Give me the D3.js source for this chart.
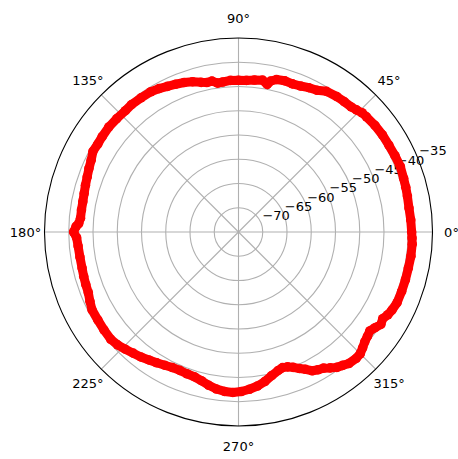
<!DOCTYPE html>
<html><head><meta charset="utf-8">
<script src="https://cdn.jsdelivr.net/npm/d3@7"></script>
<style>body{margin:0;background:#fff} svg{display:block}</style>
</head><body><svg id="c" width="458" height="459"></svg>
<script>
// measured angles (degrees) and received level (dB)
const angleDeg = [0,4,8,12,15,18,22,26,30,34,38,42,44,46,48,51,54,58,61,64,67,70,73,76,78,79,81,84,87,90,93,96,98,100,102,104,107,110,113,116,119,122,126,130,133,137,141,145,148,151,154,157,160,163,166,169,172,175,177,178,180,182,185,189,193,196,199,202,205,208,212,216,220,223,226,229,232,235,238,241,244,247,250,253,256,259,262,265,268,271,274,277,280,283,286,288,290,292,294,296,298,300,302,304,306,308,310,313,315,317,319,321,323,325,327,329,331,333,336,340,344,348,352,356,358];
const levelDb = [-39.3,-39.4,-39.5,-39.4,-39.3,-39.2,-39.0,-39.1,-39.2,-39.2,-39.3,-39.5,-39.6,-40.0,-40.3,-40.4,-40.5,-40.8,-41.6,-41.9,-42.3,-42.5,-42.4,-42.6,-43.2,-44.0,-43.3,-43.5,-43.7,-43.7,-43.7,-43.9,-44.0,-43.4,-43.5,-43.2,-42.6,-42.2,-41.9,-41.6,-41.2,-40.9,-40.8,-40.7,-40.8,-40.7,-40.6,-40.7,-40.8,-40.7,-41.2,-41.5,-41.8,-42.0,-42.2,-42.3,-42.3,-42.3,-42.0,-41.5,-41.0,-41.6,-41.8,-41.9,-41.9,-41.8,-41.7,-41.6,-41.2,-40.8,-40.8,-40.7,-40.6,-40.9,-41.4,-41.9,-42.3,-42.8,-43.2,-43.6,-43.9,-44.0,-43.9,-43.8,-43.4,-42.8,-42.3,-42.0,-41.9,-42.1,-42.5,-43.0,-43.7,-44.6,-45.3,-45.6,-45.4,-44.9,-44.2,-43.5,-42.6,-42.2,-41.9,-41.2,-40.5,-40.1,-39.6,-39.4,-39.5,-40.0,-40.5,-40.8,-41.1,-40.6,-40.0,-40.3,-39.8,-39.5,-39.2,-39.2,-39.2,-39.2,-39.1,-39.1,-39.2];
const radialTicks = [-70,-65,-60,-55,-50,-45,-40,-35];
const angleTicks = [0,45,90,135,180,225,270,315];
const rDomain = [-75,-35];

const cx=238.5, cy=232, R=194;
const rad = Math.PI/180;
const svg=d3.select("#c");
svg.append("rect").attr("width",458).attr("height",459).attr("fill","#fff");
const r = d3.scaleLinear().domain(rDomain).range([0,R]);
const g = svg.append("g").attr("transform",`translate(${cx},${cy})`);
const font = "DejaVu Sans, sans-serif";

g.selectAll("circle.grid").data(radialTicks.filter(t=>t<rDomain[1])).join("circle")
  .attr("class","grid").attr("r",d=>r(d)).attr("fill","none")
  .attr("stroke","#b0b0b0").attr("stroke-width",1.1);
g.selectAll("line.spoke").data(angleTicks).join("line").attr("class","spoke")
  .attr("x1",0).attr("y1",0)
  .attr("x2",d=>R*Math.cos(d*rad)).attr("y2",d=>-R*Math.sin(d*rad))
  .attr("stroke","#b0b0b0").attr("stroke-width",1.1);
g.append("circle").attr("r",R).attr("fill","none").attr("stroke","#000").attr("stroke-width",1.1);

const la = 22.5*rad;
g.selectAll("text.rl").data(radialTicks).join("text").attr("class","rl")
  .attr("x",d=>r(d)*Math.cos(la)+1.5).attr("y",d=>-r(d)*Math.sin(la)-7)
  .attr("dominant-baseline","central").attr("font-family",font).attr("font-size",13)
  .attr("fill","#000").text(d=>String(d).replace("-","\u2212"));

g.selectAll("text.al").data(angleTicks).join("text").attr("class","al")
  .attr("x",d=>(R+19)*Math.cos(d*rad)).attr("y",d=>-(R+20)*Math.sin(d*rad))
  .attr("text-anchor","middle").attr("dominant-baseline","central")
  .attr("font-family",font).attr("font-size",13).attr("fill","#000")
  .text(d=>d+"\u00b0");

const pts = angleDeg.map((a,i)=>({a, v:levelDb[i]}));
const line = d3.lineRadial().angle(d=>(90-d.a)*rad).radius(d=>r(d.v)).curve(d3.curveLinearClosed);
g.append("path").attr("d",line(pts)).attr("fill","none").attr("stroke","#ff0000")
  .attr("stroke-width",9).attr("stroke-linejoin","round");
g.selectAll("circle.pt").data(pts).join("circle").attr("class","pt")
  .attr("cx",d=>r(d.v)*Math.cos(d.a*rad)).attr("cy",d=>-r(d.v)*Math.sin(d.a*rad))
  .attr("r",4.8).attr("fill","#ff0000");
</script></body></html>
